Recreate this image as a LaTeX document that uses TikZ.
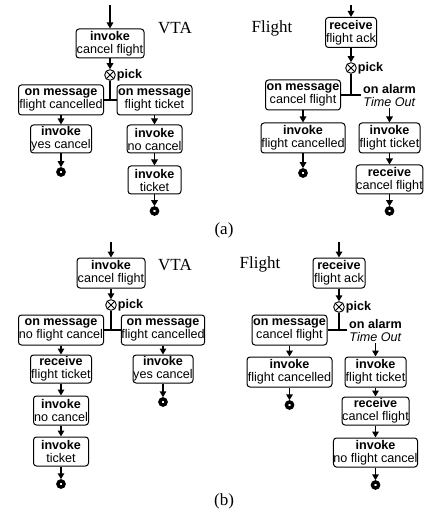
\documentclass[tikz,border=0pt]{standalone}
\usepackage{fontspec}
\setmainfont{Liberation Sans}
\newfontfamily\seriffam{Liberation Serif}
\usetikzlibrary{arrows.meta}
\newcommand{\boxtxt}[2]{\textbf{#1}\\#2}
\begin{document}
\begin{tikzpicture}[x=1pt,y=-1pt,
  box/.style={draw, rounded corners=3pt, line width=1pt, inner sep=0pt, align=center, font=\fontsize{12.6}{13}\selectfont},
  arr/.style={-{Triangle[length=6pt,width=6.5pt]}, line width=1.5pt},
  ln/.style={line width=1.3pt},
  endc/.style={circle, draw, line width=3.3pt, minimum size=6.2pt, inner sep=0pt},
  pickc/.style={circle, draw, line width=0.9pt, minimum size=10.6pt, inner sep=0pt},
  xline/.style={line width=0.9pt},
  lbl/.style={font=\seriffam\fontsize{17}{17}\selectfont, inner sep=0pt},
  picklbl/.style={font=\bfseries\fontsize{12.6}{13}\selectfont, anchor=west, inner sep=1pt},
  alarm/.style={align=center, inner sep=2pt, font=\fontsize{12.6}{13}\selectfont}]
\useasboundingbox (0,0) rectangle (424,510);

% ================= (a) VTA =================
\coordinate (sA) at (110,5);
\node[box, minimum width=68pt, minimum height=29pt] (A1) at (110,43.5) {\boxtxt{invoke}{cancel flight}};
\node[pickc] (P1) at (110,75) {};
\node[picklbl] (pk1) at (P1.east) {pick};
\node[box, minimum width=85pt, minimum height=30pt] (A2) at (61,100) {\boxtxt{on message}{flight cancelled}};
\node[box, minimum width=75pt, minimum height=30pt] (A3) at (154.5,100) {\boxtxt{on message}{flight ticket}};
\node[box, minimum width=61pt, minimum height=28pt] (A4) at (61,139) {\boxtxt{invoke}{yes cancel}};
\node[endc] (E1) at (61,172) {};
\node[box, minimum width=55pt, minimum height=28pt] (A5) at (154.5,139) {\boxtxt{invoke}{no cancel}};
\node[box, minimum width=53pt, minimum height=28pt] (A6) at (154.5,180) {\boxtxt{invoke}{ticket}};
\node[endc] (E2) at (154.5,211) {};
\node[lbl] (vta1) at (175,28) {VTA};

\draw[arr] (sA) -- (A1.north);
\draw[arr] (A1.south) -- (P1.north);
\draw[xline] (P1.north west) -- (P1.south east) (P1.north east) -- (P1.south west);
\draw[ln] (P1.south) -- (P1.south |- A2.east);
\draw[ln] (A2.east) -- (A3.west);
\draw[arr] (A2.south) -- (A4.north);
\draw[arr] (A4.south) -- (E1.north);
\draw[arr] (A3.south) -- (A5.north);
\draw[arr] (A5.south) -- (A6.north);
\draw[arr] (A6.south) -- (E2.north);

% ================= (a) Flight =================
\coordinate (sF) at (351,5);
\node[box, minimum width=51pt, minimum height=30pt] (F1) at (351,32.5) {\boxtxt{receive}{flight ack}};
\node[pickc] (P2) at (351,68) {};
\node[picklbl] (pk2) at (P2.east) {pick};
\node[box, minimum width=75pt, minimum height=30pt] (F2) at (303,95) {\boxtxt{on message}{cancel flight}};
\node[alarm] (T1) at (389.5,95) {\textbf{on alarm}\\\textit{Time Out}};
\node[box, minimum width=84pt, minimum height=30pt] (F3) at (303,138) {\boxtxt{invoke}{flight cancelled}};
\node[endc] (E3) at (303,173) {};
\node[box, minimum width=61pt, minimum height=30pt] (F4) at (389.5,138) {\boxtxt{invoke}{flight ticket}};
\node[box, minimum width=66pt, minimum height=29pt] (F5) at (389.5,179.5) {\boxtxt{receive}{cancel flight}};
\node[endc] (E4) at (389.5,211) {};
\node[lbl] (fl1) at (272,28) {Flight};

\draw[arr] (sF) -- (F1.north);
\draw[arr] (F1.south) -- (P2.north);
\draw[xline] (P2.north west) -- (P2.south east) (P2.north east) -- (P2.south west);
\draw[ln] (P2.south) -- (P2.south |- F2.east);
\draw[ln] (F2.east) -- (T1.west);
\draw[arr] (F2.south) -- (F3.north);
\draw[arr] (F3.south) -- (E3.north);
\draw[arr] (T1.south) -- (F4.north);
\draw[arr] (F4.south) -- (F5.north);
\draw[arr] (F5.south) -- (E4.north);

\node[lbl] (capa) at (224,230) {(a)};

% ================= (b) VTA =================
\coordinate (sB) at (111,242);
\node[box, minimum width=68pt, minimum height=30pt] (B1) at (111,273) {\boxtxt{invoke}{cancel flight}};
\node[pickc] (P3) at (111,305) {};
\node[picklbl] (pk3) at (P3.east) {pick};
\node[box, minimum width=85pt, minimum height=30pt] (B2) at (61,330) {\boxtxt{on message}{no flight cancel}};
\node[box, minimum width=83pt, minimum height=30pt] (B3) at (163,330) {\boxtxt{on message}{flight cancelled}};
\node[box, minimum width=61pt, minimum height=28pt] (B4) at (61,369) {\boxtxt{receive}{flight ticket}};
\node[box, minimum width=55pt, minimum height=29pt] (B5) at (61,410.5) {\boxtxt{invoke}{no cancel}};
\node[box, minimum width=55pt, minimum height=29pt] (B6) at (61,451.5) {\boxtxt{invoke}{ticket}};
\node[endc] (E5) at (61,484) {};
\node[box, minimum width=60pt, minimum height=28pt] (B7) at (163,369) {\boxtxt{invoke}{yes cancel}};
\node[endc] (E6) at (163,402) {};
\node[lbl] (vta2) at (175,265) {VTA};

\draw[arr] (sB) -- (B1.north);
\draw[arr] (B1.south) -- (P3.north);
\draw[xline] (P3.north west) -- (P3.south east) (P3.north east) -- (P3.south west);
\draw[ln] (P3.south) -- (P3.south |- B2.east);
\draw[ln] (B2.east) -- (B3.west);
\draw[arr] (B2.south) -- (B4.north);
\draw[arr] (B4.south) -- (B5.north);
\draw[arr] (B5.south) -- (B6.north);
\draw[arr] (B6.south) -- (E5.north);
\draw[arr] (B3.south) -- (B7.north);
\draw[arr] (B7.south) -- (E6.north);

% ================= (b) Flight =================
\coordinate (sG) at (339,242);
\node[box, minimum width=52pt, minimum height=30pt] (G1) at (339,273) {\boxtxt{receive}{flight ack}};
\node[pickc] (P4) at (339,307) {};
\node[picklbl] (pk4) at (P4.east) {pick};
\node[box, minimum width=75pt, minimum height=30pt] (G2) at (289.5,330) {\boxtxt{on message}{cancel flight}};
\node[alarm] (T2) at (375.5,330) {\textbf{on alarm}\\\textit{Time Out}};
\node[box, minimum width=85pt, minimum height=30pt] (G3) at (289.5,372) {\boxtxt{invoke}{flight cancelled}};
\node[endc] (E7) at (289.5,405) {};
\node[box, minimum width=61pt, minimum height=30pt] (G4) at (375.5,372) {\boxtxt{invoke}{flight ticket}};
\node[box, minimum width=67pt, minimum height=28pt] (G5) at (375.5,411) {\boxtxt{receive}{cancel flight}};
\node[box, minimum width=82pt, minimum height=29pt] (G6) at (375.5,452.5) {\boxtxt{invoke}{no flight cancel}};
\node[endc] (E8) at (375.5,485) {};
\node[lbl] (fl2) at (260,264) {Flight};

\draw[arr] (sG) -- (G1.north);
\draw[arr] (G1.south) -- (P4.north);
\draw[xline] (P4.north west) -- (P4.south east) (P4.north east) -- (P4.south west);
\draw[ln] (P4.south) -- (P4.south |- G2.east);
\draw[ln] (G2.east) -- (T2.west);
\draw[arr] (G2.south) -- (G3.north);
\draw[arr] (G3.south) -- (E7.north);
\draw[arr] (T2.south) -- (G4.north);
\draw[arr] (G4.south) -- (G5.north);
\draw[arr] (G5.south) -- (G6.north);
\draw[arr] (G6.south) -- (E8.north);

\node[lbl] (capb) at (224,501) {(b)};
\end{tikzpicture}
\end{document}
